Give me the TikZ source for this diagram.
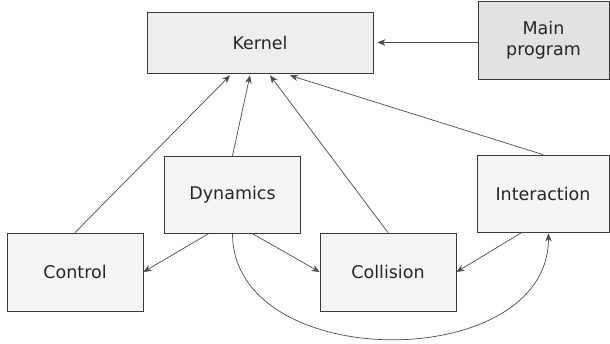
\documentclass[tikz,border=0pt]{standalone}
\usepackage{fontspec}
\setmainfont{DejaVu Sans}
\usepackage{xcolor}
\usepackage{tikz}
\usetikzlibrary{arrows.meta,positioning,calc}
\definecolor{boxline}{HTML}{3A3A3A}
\definecolor{wireline}{HTML}{4A4A4A}
\definecolor{paleface}{HTML}{F5F5F5}
\definecolor{kernface}{HTML}{EEEEEE}
\definecolor{mainface}{HTML}{E2E2E2}
\tikzset{
    every picture/.style={line cap=round,line join=round},
    module/.style={draw=boxline,fill=paleface,line width=0.8pt,
      minimum width=136pt,minimum height=78pt,inner sep=2pt,
      font=\fontsize{17.5}{21}\selectfont,align=center,text=black!85},
    callarrow/.style={-{Stealth[length=8pt,width=6.5pt,inset=2.5pt]},draw=wireline,
      line width=0.7pt}
}

\begin{document}
\begin{tikzpicture}[x=1pt,y=-1pt]
  \useasboundingbox (0,0) rectangle (610,344);
  % top row
  \node[module,fill=kernface,minimum width=226pt,minimum height=61pt] (kern) at (260,42.5) {Kernel};
  \node[module,fill=mainface,minimum width=131pt] (mainprog) at (543.5,40) {Main\\program};
  % modules below
  \node[module,minimum height=77pt] (dyn) at (232.5,194.5) {Dynamics};
  \node[module,minimum width=132pt,minimum height=77pt] (inter) at (543,193.5) {Interaction};
  \node[module] (ctrl) at (75,272) {Control};
  \node[module] (coll) at (388,272) {Collision};

  \draw[callarrow] (mainprog.west |- kern.east) -- ([xshift=4pt]kern.east);
  % everything reports to the kernel
  \draw[callarrow] (ctrl.north) -- ([xshift=-30pt,yshift=-2pt]kern.south);
  \draw[callarrow] (dyn.north) -- ([xshift=-10pt,yshift=-2pt]kern.south);
  \draw[callarrow] (coll.north) -- ([xshift=10pt,yshift=-2pt]kern.south);
  \draw[callarrow] (inter.north) -- ([xshift=30pt,yshift=-2pt]kern.south);
  % module to module
  \draw[callarrow] ([xshift=-23.5pt]dyn.south) -- (ctrl.east);
  \draw[callarrow] ([xshift=19.5pt]dyn.south) -- (coll.west);
  \draw[callarrow] ([xshift=-21pt]inter.south) -- (coll.east);
  \draw[callarrow] (dyn.south) .. controls +(0,141) and +(0,141) .. ([xshift=5.5pt,yshift=-1pt]inter.south);
\end{tikzpicture}
\end{document}
